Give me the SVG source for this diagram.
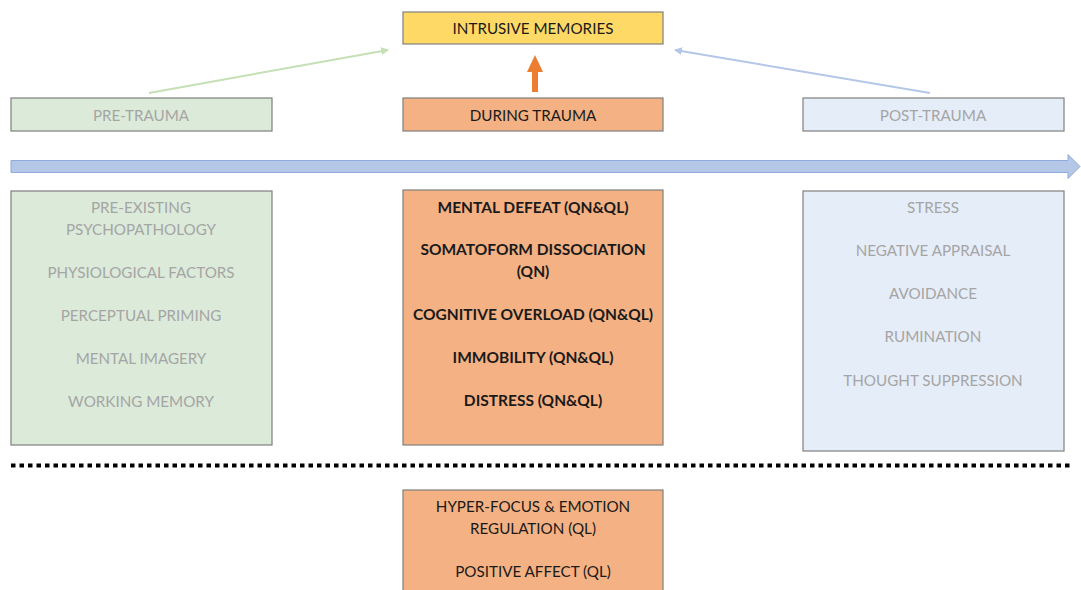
<svg xmlns="http://www.w3.org/2000/svg" width="1081" height="590" viewBox="0 0 1081 590">
  <style>
    .t { font-family: Lato, "Open Sans", "Liberation Sans", sans-serif; font-size: 15.2px; text-anchor: middle; dominant-baseline: central; }
    .gray { fill: #a5a5a5; }
    .dark { fill: #1a1a1a; }
    .bold { font-weight: bold; font-size: 15.5px; }
    .box { stroke: #7f7f7f; stroke-width: 1.2; }
    .green { fill: #dceada; }
    .orange { fill: #f4b183; }
    .blue { fill: #e5edf8; }
    .yellow { fill: #ffd966; }
  </style>
  <defs>
    <marker id="ahG" markerWidth="8" markerHeight="8" refX="7" refY="4" orient="auto" markerUnits="userSpaceOnUse">
      <path d="M0,0 L8,4 L0,8 Z" fill="#c5e0b4"/>
    </marker>
    <marker id="ahB" markerWidth="8" markerHeight="8" refX="7" refY="4" orient="auto" markerUnits="userSpaceOnUse">
      <path d="M0,0 L8,4 L0,8 Z" fill="#b4c7e7"/>
    </marker>
  </defs>

  <g id="connectors">
    <line x1="149" y1="93" x2="388" y2="50" stroke="#c5e0b4" stroke-width="2" marker-end="url(#ahG)"/>
    <line x1="930" y1="93" x2="675" y2="50" stroke="#b4c7e7" stroke-width="2" marker-end="url(#ahB)"/>
    <path d="M532,92 L532,72 L527,72 L535,55 L543,72 L538,72 L538,92 Z" fill="#ed7d31"/>
  </g>

  <g id="timeline">
    <path d="M11,160.5 L1068,160.5 L1068,154.5 L1080,166.5 L1068,178.5 L1068,172.5 L11,172.5 Z" fill="#b4c7e7" stroke="#8faadc" stroke-width="1"/>
  </g>

  <g id="separator">
    <line x1="11" y1="465.5" x2="1070" y2="465.5" stroke="#000" stroke-width="4" stroke-dasharray="4.5 4"/>
  </g>

  <g id="intrusive-memories">
    <rect class="box yellow" x="403" y="12" width="260" height="32"/>
    <text class="t dark" x="533" y="28">INTRUSIVE MEMORIES</text>
  </g>

  <g id="pre-trauma">
    <rect class="box green" x="11" y="98" width="261" height="33"/>
    <text class="t gray" x="141" y="114.5">PRE-TRAUMA</text>
  </g>

  <g id="during-trauma">
    <rect class="box orange" x="403" y="98" width="260" height="33"/>
    <text class="t dark" x="533" y="114.5">DURING TRAUMA</text>
  </g>

  <g id="post-trauma">
    <rect class="box blue" x="803" y="98" width="261" height="33"/>
    <text class="t gray" x="933" y="114.5">POST-TRAUMA</text>
  </g>

  <g id="pre-trauma-factors">
    <rect class="box green" x="11" y="191" width="261" height="254"/>
    <text class="t gray" x="141" y="207">PRE-EXISTING</text>
    <text class="t gray" x="141" y="229">PSYCHOPATHOLOGY</text>
    <text class="t gray" x="141" y="272">PHYSIOLOGICAL FACTORS</text>
    <text class="t gray" x="141" y="315">PERCEPTUAL PRIMING</text>
    <text class="t gray" x="141" y="358">MENTAL IMAGERY</text>
    <text class="t gray" x="141" y="401">WORKING MEMORY</text>
  </g>

  <g id="during-trauma-factors">
    <rect class="box orange" x="403" y="190" width="260" height="255"/>
    <text class="t dark bold" x="533" y="207">MENTAL DEFEAT (QN&amp;QL)</text>
    <text class="t dark bold" x="533" y="249">SOMATOFORM DISSOCIATION</text>
    <text class="t dark bold" x="533" y="271">(QN)</text>
    <text class="t dark bold" x="533" y="314">COGNITIVE OVERLOAD (QN&amp;QL)</text>
    <text class="t dark bold" x="533" y="357">IMMOBILITY (QN&amp;QL)</text>
    <text class="t dark bold" x="533" y="400">DISTRESS (QN&amp;QL)</text>
  </g>

  <g id="post-trauma-factors">
    <rect class="box blue" x="803" y="191" width="261" height="260"/>
    <text class="t gray" x="933" y="207">STRESS</text>
    <text class="t gray" x="933" y="250">NEGATIVE APPRAISAL</text>
    <text class="t gray" x="933" y="293">AVOIDANCE</text>
    <text class="t gray" x="933" y="336">RUMINATION</text>
    <text class="t gray" x="933" y="380">THOUGHT SUPPRESSION</text>
  </g>

  <g id="protective-factors">
    <rect class="box orange" x="403" y="490" width="260" height="110"/>
    <text class="t dark" x="533" y="506">HYPER-FOCUS &amp; EMOTION</text>
    <text class="t dark" x="533" y="528">REGULATION (QL)</text>
    <text class="t dark" x="533" y="571">POSITIVE AFFECT (QL)</text>
  </g>
</svg>
